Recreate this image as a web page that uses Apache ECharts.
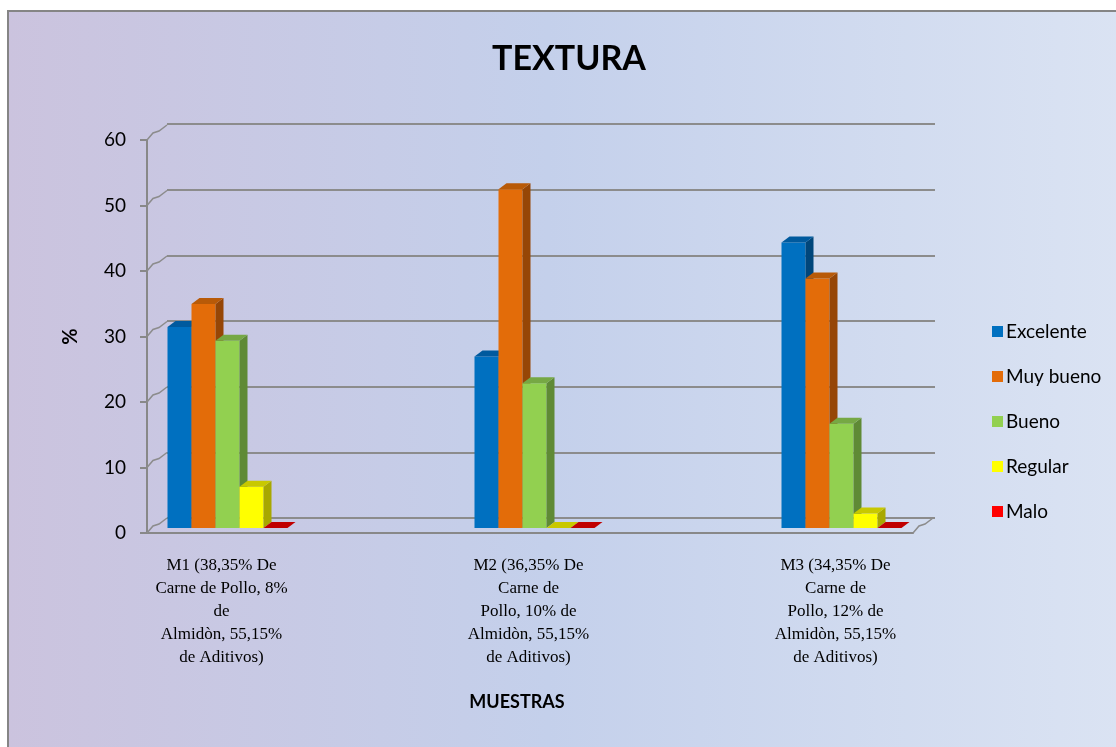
<!DOCTYPE html>
<html>
<head>
<meta charset="utf-8">
<script src="https://cdn.jsdelivr.net/npm/echarts@6/dist/echarts.min.js"></script>
<style>
html,body{margin:0;padding:0;background:#fff;}
#chart{width:1116px;height:747px;}
</style>
</head>
<body>
<div id="chart"></div>
<script>
// ---- data ----
const categories = [
  'M1 (38,35% De\nCarne de Pollo, 8%\nde\nAlmidòn, 55,15%\nde Aditivos)',
  'M2 (36,35% De\nCarne de\nPollo, 10% de\nAlmidòn, 55,15%\nde Aditivos)',
  'M3 (34,35% De\nCarne de\nPollo, 12% de\nAlmidòn, 55,15%\nde Aditivos)'
];
const seriesNames = ['Excelente', 'Muy bueno', 'Bueno', 'Regular', 'Malo'];
const excelente = [30.7, 26.2, 43.6];
const muyBueno  = [34.2, 51.7, 38.1];
const bueno     = [28.6, 22.1, 15.9];
const regular   = [6.3, 0, 2.2];
const malo      = [0, 0, 0];
const yTicks = [0, 10, 20, 30, 40, 50, 60];

const seriesValues = [excelente, muyBueno, bueno, regular, malo];
const faceColors = [
  {front:'#0070C0', side:'#00467A', top:'#005A9E', legend:'#0070C0'},
  {front:'#E36C09', side:'#964606', top:'#B85A08', legend:'#E36C09'},
  {front:'#92D050', side:'#5F8A35', top:'#76A844', legend:'#92D050'},
  {front:'#FFFF00', side:'#A8A800', top:'#C8C800', legend:'#FFFF00'},
  {front:'#C00000', side:'#900000', top:'#C00000', legend:'#FF0000'}
];

const BAR_W = 24, DX = 8, DY = -6;

const chart = echarts.init(document.getElementById('chart'));

function makeBarSeries(idx) {
  const vals = seriesValues[idx];
  const c = faceColors[idx];
  return {
    name: seriesNames[idx],
    type: 'custom',
    xAxisIndex: 1,
    yAxisIndex: 1,
    itemStyle: {color: c.legend},
    encode: {x: 0, y: 1},
    data: vals.map((v, i) => [i, v]),
    z: 5,
    renderItem: function (params, api) {
      const base = api.coord([api.value(0), 0]);
      const topP = api.coord([api.value(0), api.value(1)]);
      const L = base[0] - 54 + idx * BAR_W;
      const R = L + BAR_W;
      const y0 = base[1];
      const y1 = topP[1];
      const children = [];
      if (y0 - y1 > 0.5) {
        children.push({type:'rect', shape:{x:L, y:y1, width:BAR_W, height:y0-y1}, style:{fill:c.front}});
        children.push({type:'polygon', shape:{points:[[R,y1],[R+DX,y1+DY],[R+DX,y0+DY],[R,y0]]}, style:{fill:c.side}});
      }
      children.push({type:'polygon', shape:{points:[[L,y1],[L+DX,y1+DY],[R+DX,y1+DY],[R,y1]]}, style:{fill:c.top}});
      return {type:'group', children: children};
    }
  };
}

const option = {
  backgroundColor: 'transparent',
  animation: false,
  title: {
    text: 'TEXTURA',
    left: 487,
    top: 37,
    textStyle: {fontFamily: 'Lato', fontWeight: 'bold', fontSize: 34, color: '#000'}
  },
  legend: {
    orient: 'vertical',
    left: 987,
    top: 317,
    itemWidth: 11,
    itemHeight: 11,
    itemGap: 26,
    icon: 'rect',
    data: seriesNames,
    textStyle: {fontFamily: 'Lato', fontSize: 19, color: '#000', padding: [0,0,0,-2]}
  },
  graphic: [
    {type:'rect', z:-10, shape:{x:8, y:11, width:1200, height:800},
     style:{fill:{type:'linear', x:0, y:0, x2:1, y2:0, colorStops:[
       {offset:0, color:'#CBC3DE'},
       {offset:0.45, color:'#C4D0EB'},
       {offset:1, color:'#DEE6F4'}]},
       stroke:'#858585', lineWidth:2}}
  ],
  grid: [
    {left:147, top:140, width:766, height:393},   // front axes
    {left:68, top:135, width:921, height:393},     // bars
    {left:167, top:124, width:768, height:394}     // back wall
  ],
  xAxis: [
    {gridIndex:0, type:'category', data:categories, boundaryGap:true,
     axisLine:{lineStyle:{color:'#888', width:2}}, axisTick:{show:false}, axisLabel:{show:false},
     name:'MUESTRAS', nameLocation:'middle', nameGap:160,
     nameTextStyle:{fontFamily:'Lato', fontWeight:'bold', fontSize:18, color:'#000', padding:[0,26,0,0]}},
    {gridIndex:1, type:'category', data:categories,
     axisLine:{show:false}, axisTick:{show:false},
     axisLabel:{interval:0, margin:26, fontFamily:'Liberation Serif', fontSize:17, lineHeight:23, color:'#000'}},
    {gridIndex:2, type:'category', data:categories, show:false}
  ],
  yAxis: [
    {gridIndex:0, type:'value', min:0, max:60, interval:10,
     axisLine:{show:true, lineStyle:{color:'#888', width:2}},
     axisTick:{show:true, length:7, lineStyle:{color:'#888', width:2}},
     axisLabel:{margin:21, fontFamily:'Lato', fontSize:19, color:'#000'},
     splitLine:{show:false},
     name:'%', nameLocation:'middle', nameRotate:90, nameGap:66,
     nameTextStyle:{fontFamily:'Lato', fontWeight:'bold', fontSize:20, color:'#000'}},
    {gridIndex:1, type:'value', min:0, max:60, interval:10, show:false, splitLine:{show:false}},
    {gridIndex:2, type:'value', min:0, max:60, interval:10,
     axisLine:{show:false}, axisTick:{show:false}, axisLabel:{show:false},
     splitLine:{show:true, lineStyle:{color:'#8C8C8C', width:2}}}
  ],
  series: [
    {
      type:'custom', name:'_conn', xAxisIndex:0, yAxisIndex:0, z:1, silent:true,
      encode:{y:0}, legendHoverLink:false,
      data: yTicks.map(t => [t]),
      renderItem: function (params, api) {
        const p = api.coord([0, api.value(0)]);
        const x = params.coordSys.x;
        const w = params.coordSys.width;
        const y = p[1];
        const ch = [{type:'polyline', shape:{points:[[x,y],[x+6,y-7],[x+12,y-9],[x+20,y-15]]},
                     style:{stroke:'#8C8C8C', lineWidth:1.5, fill:null}}];
        if (api.value(0) === 0) {
          ch.push({type:'polyline', shape:{points:[[x+w,y],[x+w+6,y-7],[x+w+12,y-9],[x+w+20,y-15]]},
                   style:{stroke:'#8C8C8C', lineWidth:1.5, fill:null}});
        }
        return {type:'group', children:ch};
      }
    }
  ].concat(seriesNames.map((n, i) => makeBarSeries(i)))
};

chart.setOption(option);
</script>
</body>
</html>
